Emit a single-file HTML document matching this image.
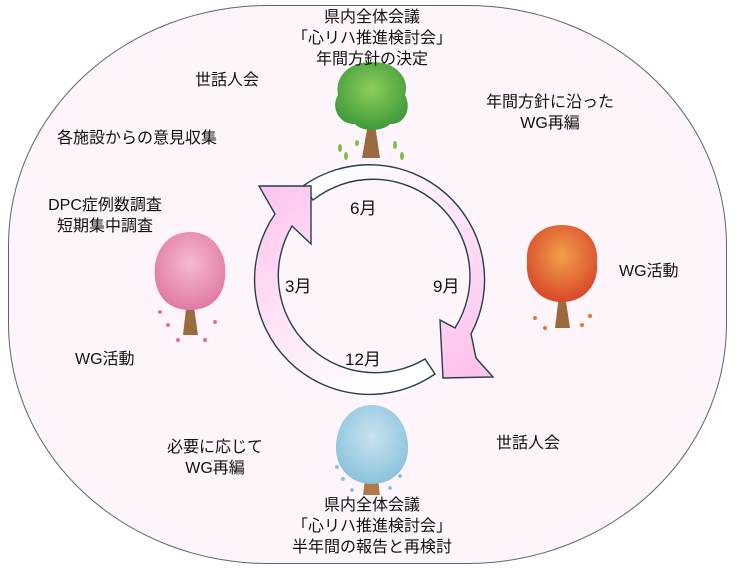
<!DOCTYPE html>
<html><head><meta charset="utf-8"><style>
html,body{margin:0;padding:0;background:#fff;}
body{width:736px;height:572px;position:relative;overflow:hidden;font-family:"Liberation Sans","Noto Sans CJK JP",sans-serif;color:#111;}
.outer{position:absolute;left:8px;top:5px;width:719px;height:559px;border:1.3px solid #5a6470;border-radius:260px/240px;background:#fdf5fb;box-sizing:border-box;}
.t{position:absolute;font-size:16px;line-height:21px;text-align:center;white-space:nowrap;}
svg{position:absolute;left:0;top:0;}
</style></head><body>
<div class="outer"></div>
<svg width="736" height="572" viewBox="0 0 736 572">
<defs>
<linearGradient id="g1" x1="0" y1="0" x2="0.6" y2="1"><stop offset="0" stop-color="#ffc2ec"/><stop offset="1" stop-color="#ffffff"/></linearGradient>
<linearGradient id="g2" x1="0.2" y1="0" x2="0.8" y2="1"><stop offset="0" stop-color="#ffffff"/><stop offset="1" stop-color="#ffc2ec"/></linearGradient>
<radialGradient id="gt" cx="0.5" cy="0.4" r="0.6"><stop offset="0" stop-color="#8ccf5a"/><stop offset="1" stop-color="#3f9a3a"/></radialGradient>
<radialGradient id="pt" cx="0.5" cy="0.4" r="0.6"><stop offset="0" stop-color="#f6b9d0"/><stop offset="1" stop-color="#e07aa3"/></radialGradient>
<radialGradient id="ot" cx="0.5" cy="0.4" r="0.6"><stop offset="0" stop-color="#f1a04a"/><stop offset="1" stop-color="#d9482a"/></radialGradient>
<radialGradient id="bt" cx="0.5" cy="0.4" r="0.6"><stop offset="0" stop-color="#c8e4f0"/><stop offset="1" stop-color="#8cc2dc"/></radialGradient>
</defs>
<path d="M303,186 A115,115 0 0 1 471,334 L476,358 L493,377 L443,378 L440,320 L455,328 A97,97 0 0 0 313,200 Z" fill="url(#g2)" stroke="#21404f" stroke-width="1.4"/>
<path d="M435,374 A115,115 0 0 1 275,214 L259,186 L311,186 L311,244 L292,226 A97,97 0 0 0 425,359 Z" fill="url(#g1)" stroke="#21404f" stroke-width="1.4"/>
<path d="M369,118 L362,158 L380,158 L374,118 Z" fill="#9b6a3e"/>
<path d="M372,62 C345,62 335,80 338,95 C330,108 340,125 355,124 C362,132 382,132 390,124 C405,125 412,108 405,95 C410,80 398,62 372,62 Z" fill="url(#gt)"/>
<g fill="#7cc14f"><ellipse cx="340" cy="148" rx="2" ry="4"/><ellipse cx="346" cy="156" rx="2" ry="4"/><ellipse cx="395" cy="145" rx="2" ry="4"/><ellipse cx="402" cy="156" rx="2" ry="4"/><ellipse cx="357" cy="143" rx="2" ry="3"/></g>
<path d="M187,300 L183,335 L198,335 L193,300 Z" fill="#9b6a3e"/>
<path d="M190,232 C165,232 152,255 155,278 C157,298 170,310 190,310 C210,310 223,298 225,278 C228,255 215,232 190,232 Z" fill="url(#pt)"/>
<g fill="#e56e96"><circle cx="168" cy="325" r="2"/><circle cx="215" cy="322" r="2"/><circle cx="178" cy="340" r="2"/><circle cx="205" cy="340" r="2"/><circle cx="160" cy="312" r="2"/></g>
<path d="M559,295 L555,328 L570,328 L565,295 Z" fill="#9b6a3e"/>
<path d="M562,225 C540,225 525,240 527,262 C525,285 540,302 562,302 C584,302 599,285 597,262 C599,240 584,225 562,225 Z" fill="url(#ot)"/>
<g fill="#e07a2a"><circle cx="535" cy="318" r="2"/><circle cx="590" cy="316" r="2"/><circle cx="545" cy="328" r="2"/><circle cx="582" cy="325" r="2"/></g>
<path d="M368,455 L363,495 L380,495 L375,455 Z" fill="#b07a48"/>
<path d="M372,405 C350,405 335,425 336,450 C337,470 352,484 372,484 C392,484 407,470 408,450 C409,425 394,405 372,405 Z" fill="url(#bt)"/>
<g fill="#8cc2dc"><circle cx="337" cy="467" r="2"/><circle cx="400" cy="476" r="2"/><circle cx="343" cy="479" r="2"/><circle cx="352" cy="490" r="2"/><circle cx="390" cy="488" r="2"/></g>
</svg>

<div class="t" style="left:272px;top:7px;width:200px;">県内全体会議<br>「心リハ推進検討会」<br>年間方針の決定</div>
<div class="t" style="left:195px;top:70px;">世話人会</div>
<div class="t" style="left:470px;top:92px;width:160px;">年間方針に沿った<br>WG再編</div>
<div class="t" style="left:57px;top:128px;">各施設からの意見収集</div>
<div class="t" style="left:30px;top:195px;width:150px;">DPC症例数調査<br>短期集中調査</div>
<div class="t" style="left:619px;top:261px;">WG活動</div>
<div class="t" style="left:75px;top:349px;">WG活動</div>
<div class="t" style="left:140px;top:437px;width:150px;">必要に応じて<br>WG再編</div>
<div class="t" style="left:496px;top:433px;">世話人会</div>
<div class="t" style="left:262px;top:495px;width:220px;">県内全体会議<br>「心リハ推進検討会」<br>半年間の報告と再検討</div>
<div class="t" style="left:350px;top:198px;font-size:17px;">6月</div>
<div class="t" style="left:285px;top:276px;font-size:17px;">3月</div>
<div class="t" style="left:433px;top:276px;font-size:17px;">9月</div>
<div class="t" style="left:345px;top:349px;font-size:17px;">12月</div>
</body></html>
